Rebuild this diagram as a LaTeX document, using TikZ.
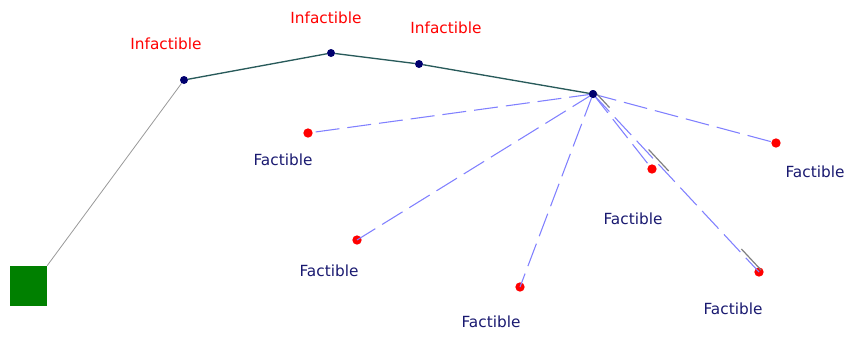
\documentclass[tikz,border=0pt]{standalone}
\usepackage{fontspec}
\setmainfont{DejaVu Sans}
\definecolor{navy}{RGB}{25,25,112}
\definecolor{dotnavy}{RGB}{0,0,110}
\definecolor{pathcol}{RGB}{40,90,90}
\definecolor{dashblue}{RGB}{128,128,255}
\definecolor{greenbox}{RGB}{0,128,0}
\begin{document}
\begin{tikzpicture}[x=0.75pt,y=-0.75pt,
  lab/.style={font=\fontsize{11.5}{13}\selectfont},
  inf/.style={lab,text=red},
  fac/.style={lab,text=navy},
  rdot/.style={circle,fill=red,inner sep=0pt,minimum size=7pt},
  ndot/.style={circle,fill=dotnavy,inner sep=0pt,minimum size=6pt},
  dline/.style={dashblue,line width=0.8pt,dash pattern=on 18pt off 6pt},
  gline/.style={gray,line width=0.9pt}]
\useasboundingbox (0,0) rectangle (852,337);
% start square
\node[fill=greenbox,inner sep=0pt,minimum width=27.5pt,minimum height=30pt] (start) at (28.5,286) {};
% path nodes
\node[ndot] (p1) at (184,80) {};
\node[ndot] (p2) at (331,53) {};
\node[ndot] (p3) at (419,64) {};
\node[ndot] (p4) at (593,94) {};
% red dots
\node[rdot] (r1) at (308,133) {};
\node[rdot] (r2) at (357,240) {};
\node[rdot] (r3) at (520,287) {};
\node[rdot] (r4) at (652,169) {};
\node[rdot] (r5) at (759,272) {};
\node[rdot] (r6) at (776,143) {};
% connectors
\draw[gray!80,line width=0.6pt] (start.north east) -- (p1);
\draw[pathcol,line width=1pt] (p1) -- (p2) -- (p3) -- (p4);
\foreach \r in {r1,r2,r3,r4,r6}{
  \draw[dline] (p4.center) -- (\r.center);
}
\draw[dline] (p4.center) -- (r5.center);
\draw[gline,dash pattern=on 16pt off 43pt on 22pt off 80pt on 23pt off 100pt] ([shift={(2,-2)}]p4.center) -- ([shift={(2,-2)}]r5.center);
\node[ndot] at (p4) {};
% labels
\node[inf] (l1) at (166,44) {Infactible};
\node[inf] (l2) at (326,18) {Infactible};
\node[inf] (l3) at (446,28) {Infactible};
\node[fac] (f1) at (283,160) {Factible};
\node[fac] (f2) at (329,271) {Factible};
\node[fac] (f3) at (491,322) {Factible};
\node[fac] (f4) at (633,219) {Factible};
\node[fac] (f5) at (733,309) {Factible};
\node[fac] (f6) at (815,172) {Factible};
\end{tikzpicture}
\end{document}
